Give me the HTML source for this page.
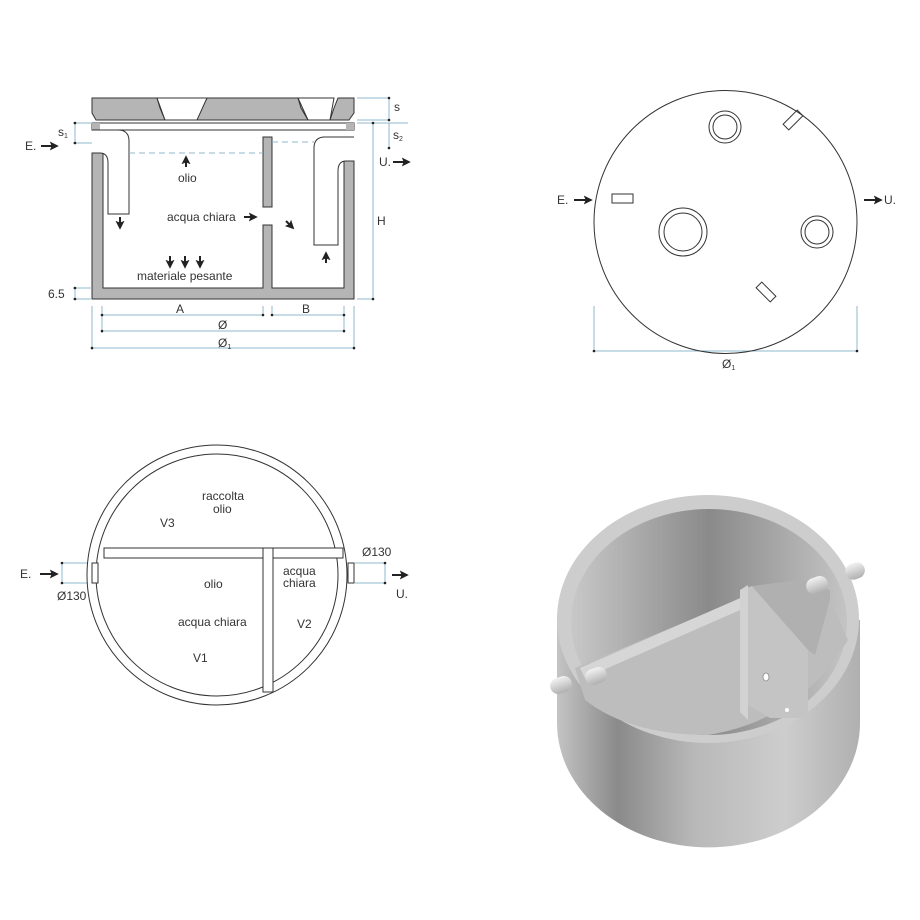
<!DOCTYPE html>
<html><head><meta charset="utf-8"><style>
html,body{margin:0;padding:0;background:#fff}
svg{display:block}
text{font-family:"Liberation Sans",sans-serif;fill:#333;font-size:12px}
</style></head><body>
<svg width="920" height="920" viewBox="0 0 920 920" xmlns="http://www.w3.org/2000/svg">
<defs>
<marker id="ah" viewBox="0 0 10 10" refX="8" refY="5" markerWidth="4.5" markerHeight="4.5" orient="auto"><path d="M0,0 L10,5 L0,10 L2,5 z" fill="#222"/></marker>
<linearGradient id="cyl" x1="0" x2="1" y1="0" y2="0">
<stop offset="0" stop-color="#c4c4c4"/><stop offset="0.2" stop-color="#8a8a8a"/><stop offset="0.45" stop-color="#b8b8b8"/><stop offset="0.75" stop-color="#cdcdcd"/><stop offset="1" stop-color="#b0b0b0"/></linearGradient>
<linearGradient id="inw" x1="0" x2="1" y1="0" y2="0">
<stop offset="0" stop-color="#c8c8c8"/><stop offset="0.5" stop-color="#8a8a8a"/><stop offset="1" stop-color="#c4c4c4"/></linearGradient>
<linearGradient id="pipe" x1="0" x2="0" y1="0" y2="1"><stop offset="0" stop-color="#f2f2f2"/><stop offset="1" stop-color="#b0b0b0"/></linearGradient>
</defs>

<!-- ===== Section view ===== -->
<g stroke="#333" stroke-width="1">
<path d="M92,98 H157 L160,108 L165,120 H197 L201,108 L207,98 H298 L301,108 L308,120 H330 L334,108 L338,98 H354 V113 L349,120 H96 L92,113 Z M157,98" fill="#b5b5b5"/>
<path d="M157,98 L165,120 H197 L207,98 Z M298,98 L308,120 H330 L334,98 Z" fill="#fff"/>
<rect x="92" y="123" width="262" height="7" fill="#fff"/>
<path d="M92,123 H100 V130 H92 Z M346,123 H354 V130 H346 Z" fill="#b5b5b5" stroke="none"/>
<path d="M92,153 H103 V288 H263 V225 H272 V288 H344 V161 H354 V299 H92 Z" fill="#b5b5b5"/>
<rect x="263" y="137" width="9" height="70" fill="#b5b5b5"/>
<path d="M92,130 H118 Q129,130 129,141 V214 H108 V163 Q108,153 100,153 H92" fill="#fff"/>
<path d="M354,137 H325 Q314,137 314,148 V245 H338 V171 Q338,161 346,161 H354" fill="#fff"/>
</g>
<g stroke="#8fb8cc" stroke-width="1" stroke-dasharray="6,4" fill="none">
<line x1="129" y1="153" x2="263" y2="153"/><line x1="272" y1="142" x2="314" y2="142"/>
</g>
<g stroke="#8fb8cc" stroke-width="1" fill="none">
<path d="M357,98 H390 M357,120 H390 M389,98 V120"/>
<path d="M357,123 H408 M389,123 V148 M357,299 H374 M373,123 V299"/>
<path d="M73,123 H92 M73,143 H92 M75,123 V143"/>
<path d="M73,288 H92 M73,299 H92 M75,288 V299"/>
<path d="M102,306 V315 M263,306 V315 M272,306 V315 M344,306 V333 M102,306 V333 M92,306 V350 M354,306 V350"/>
<path d="M102,315 H263 M272,315 H344 M102,331 H344 M92,348 H354"/>
<path d="M594,306 V351 M857,306 V351 M594,351 H857"/>
<path d="M62,563 V583 H92 M62,563 H92 M385,563 V583 H355 M385,563 H355"/>
</g>
<g fill="#222">
<circle cx="389" cy="98" r="1.3"/><circle cx="389" cy="120" r="1.3"/><circle cx="389" cy="148" r="1.3"/><circle cx="373" cy="123" r="1.3"/><circle cx="373" cy="299" r="1.3"/>
<circle cx="75" cy="123" r="1.3"/><circle cx="75" cy="143" r="1.3"/><circle cx="75" cy="288" r="1.3"/><circle cx="75" cy="299" r="1.3"/>
<circle cx="102" cy="315" r="1.3"/><circle cx="263" cy="315" r="1.3"/><circle cx="272" cy="315" r="1.3"/><circle cx="344" cy="315" r="1.3"/>
<circle cx="102" cy="331" r="1.3"/><circle cx="344" cy="331" r="1.3"/><circle cx="92" cy="348" r="1.3"/><circle cx="354" cy="348" r="1.3"/>
<circle cx="594" cy="351" r="1.3"/><circle cx="857" cy="351" r="1.3"/>
<circle cx="62" cy="563" r="1.3"/><circle cx="62" cy="583" r="1.3"/><circle cx="385" cy="563" r="1.3"/><circle cx="385" cy="583" r="1.3"/>
</g>
<text x="394" y="111">s</text>
<text x="393" y="139">s<tspan font-size="7" dy="2">2</tspan></text>
<text x="58" y="136">s<tspan font-size="7" dy="2">1</tspan></text>
<text x="48" y="298">6.5</text>
<text x="377" y="225">H</text>
<text x="176" y="313">A</text>
<text x="302" y="313">B</text>
<text x="218" y="329">Ø</text>
<text x="218" y="347">Ø<tspan font-size="7" dy="2">1</tspan></text>
<text x="25" y="150">E.</text>
<text x="379" y="166">U.</text>
<text x="178" y="182">olio</text>
<text x="167" y="221">acqua chiara</text>
<text x="137" y="280">materiale pesante</text>
<g stroke="#222" stroke-width="2" fill="none" marker-end="url(#ah)">
<line x1="41" y1="146" x2="57" y2="146"/><line x1="393" y1="162" x2="409" y2="162"/>
<line x1="186" y1="167" x2="186" y2="157"/>
<line x1="120" y1="217" x2="120" y2="228"/>
<line x1="244" y1="217" x2="256" y2="217"/>
<line x1="286" y1="221" x2="293" y2="228"/>
<line x1="326" y1="263" x2="326" y2="253"/>
<line x1="170" y1="256" x2="170" y2="267"/><line x1="185" y1="256" x2="185" y2="267"/><line x1="200" y1="256" x2="200" y2="267"/>
<line x1="574" y1="200" x2="591" y2="200"/><line x1="864" y1="200" x2="881" y2="200"/>
<line x1="40" y1="574" x2="57" y2="574"/><line x1="392" y1="575" x2="407" y2="575"/>
<line x1="241" y1="574" x2="241" y2="563"/>
<line x1="246" y1="608" x2="254" y2="600"/><line x1="245" y1="632" x2="253" y2="641"/>
<line x1="324" y1="578" x2="336" y2="578"/>
</g>

<!-- ===== Top plan ===== -->
<g stroke="#333" stroke-width="1" fill="none">
<circle cx="725.5" cy="222" r="131.5"/>
<circle cx="725" cy="127" r="16"/><circle cx="725" cy="127" r="12"/>
<circle cx="683" cy="232" r="24"/><circle cx="683" cy="232" r="19"/>
<circle cx="817" cy="232" r="16"/><circle cx="817" cy="232" r="12"/>
<rect x="612" y="194" width="21" height="9"/>
<rect x="783" y="116" width="20" height="8" transform="rotate(-45 793 120)"/>
<rect x="756" y="288" width="20" height="8" transform="rotate(45 766 292)"/>
</g>
<text x="557" y="204">E.</text><text x="884" y="204">U.</text>
<text x="722" y="368">Ø<tspan font-size="7" dy="2">1</tspan></text>

<!-- ===== Plan section ===== -->
<g stroke="#333" stroke-width="1" fill="#fff">
<circle cx="217" cy="575" r="130"/>
<circle cx="217" cy="575" r="121"/>
<path d="M104,548 H343 V558 H104 Z"/>
<path d="M263,548 H273 V692 H263 Z"/>
<rect x="92" y="563" width="6" height="20"/>
<rect x="348" y="563" width="6" height="20"/>
</g>
<text x="202" y="500">raccolta</text><text x="213" y="513">olio</text>
<text x="160" y="527">V3</text>
<text x="20" y="578">E.</text>
<text x="57" y="600">Ø130</text>
<text x="362" y="556">Ø130</text>
<text x="396" y="598">U.</text>
<text x="204" y="588">olio</text>
<text x="283" y="575">acqua</text><text x="283" y="587">chiara</text>
<text x="178" y="626">acqua chiara</text>
<text x="297" y="628">V2</text>
<text x="193" y="662">V1</text>

<!-- ===== 3D render ===== -->
<path d="M557,620 V723 A151,124 0 0 0 860,723 V620 Z" fill="url(#cyl)"/>
<ellipse cx="708" cy="619" rx="151" ry="124" fill="#cdcdcd"/>
<ellipse cx="709" cy="622" rx="138" ry="113" fill="url(#inw)"/>
<path d="M575,668 L745,597 L790,630 L830,600 L848,640 Q800,720 708,735 Q630,735 585,700 Z" fill="#bdbdbd"/>
<path d="M580,668 L745,596 L747,607 L585,678 Z" fill="#d6d6d6"/>
<path d="M740,590 L752,586 L808,650 L808,718 L770,718 L740,700 Z" fill="#c4c4c4"/>
<path d="M752,586 L808,650 L815,655 L830,600 L830,590 L800,580 Z" fill="#b0b0b0"/>
<path d="M740,590 L748,585 L748,720 L740,712 Z" fill="#d2d2d2"/>
<ellipse cx="766" cy="677" rx="3" ry="4" fill="#fff" stroke="#999"/>
<ellipse cx="787" cy="710" rx="2" ry="2" fill="#fff"/>
<g>
<rect x="550" y="677" width="22" height="16" rx="8" fill="url(#pipe)" transform="rotate(-20 561 685)"/>
<rect x="585" y="668" width="22" height="16" rx="8" fill="url(#pipe)" transform="rotate(-20 596 676)"/>
<rect x="806" y="577" width="22" height="16" rx="8" fill="url(#pipe)" transform="rotate(-20 817 585)"/>
<rect x="845" y="563" width="20" height="16" rx="8" fill="url(#pipe)" transform="rotate(-20 855 571)"/>
</g>
</svg>
</body></html>
